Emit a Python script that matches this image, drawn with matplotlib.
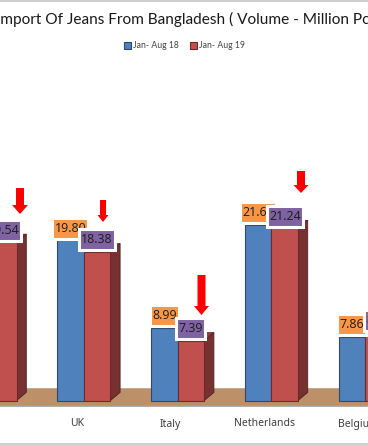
import numpy as np
import matplotlib
matplotlib.use('Agg')
import matplotlib.pyplot as plt
from matplotlib.patches import Polygon, Rectangle

plt.rcParams['font.family'] = ['Lato', 'DejaVu Sans']

# first category sits off the left edge of the picture, its name is not visible
categories = ['', 'UK', 'Italy', 'Netherlands', 'Belgium']
jan_aug_18 = [20.5, 19.80, 8.99, 21.67, 7.86]
jan_aug_19 = [19.54, 18.38, 7.39, 21.24, 8.45]
labels_18 = ['20.50', '19.80', '8.99', '21.67', '7.86']
labels_19 = ['19.54', '18.38', '7.39', '21.24', '8.45']

W, H = 368, 445
X0, DX = -10.0, 93.8   # pixel x of category 0, pixels per category
Y0, DY = 400.5, 8.1    # pixel y of value 0, pixels per unit


def px(x):
    return (x - X0) / DX


def py(y):
    return (Y0 - y) / DY


fig = plt.figure(figsize=(W / 100, H / 100), dpi=100)
ax = fig.add_axes([0, 0, 1, 1])
ax.set_xlim(px(0), px(W))
ax.set_ylim(py(H), py(0))
ax.axis('off')

# grey frame bands at top and bottom
ax.axhspan(py(2), py(0), color='#cfcfcf', lw=0, zorder=1)
ax.axhspan(py(H), py(443), color='#cfcfcf', lw=0, zorder=1)

# floor
ax.axhspan(py(406), py(388), facecolor='#bc9068', edgecolor='none', zorder=1)
ax.axhline(py(406), color='#a0a0a0', lw=1.2, zorder=1)
ax.axhline(py(388), color='#c8b09a', lw=0.6, zorder=1)

x = np.arange(len(categories))
bw = 26.6 / DX
depth_x = 9.7 / DX
depth_y = 1.0

bars18 = ax.bar(x - bw / 2, jan_aug_18, bw, color='#4f81bd', edgecolor='#2c4a6e', lw=0.8,
                zorder=4, label='Jan- Aug 18')
bars19 = ax.bar(x + bw / 2, jan_aug_19, bw, color='#c0504d', edgecolor='#6e2a28', lw=0.8,
                zorder=4, label='Jan- Aug 19')

# side and top faces of the 3d bars
for i in x:
    v18, v19 = jan_aug_18[i], jan_aug_19[i]
    r = i + bw
    ax.add_patch(Polygon([(r, 0), (r + depth_x, depth_y), (r + depth_x, v19 + depth_y), (r, v19)],
                         facecolor='#773131', edgecolor='#4e2020', lw=0.6, zorder=3))
    ax.add_patch(Polygon([(i, v19), (i + depth_x, v19 + depth_y), (r + depth_x, v19 + depth_y), (r, v19)],
                         facecolor='#8f3d3b', edgecolor='#4e2020', lw=0.5, zorder=3))
    ax.add_patch(Polygon([(i - bw, v18), (i - bw + depth_x, v18 + depth_y), (i + depth_x, v18 + depth_y), (i, v18)],
                         facecolor='#2f5480', edgecolor='#22405f', lw=0.5, zorder=2))


def value_box(cx, value, text, color, z):
    # box stands just above the bar top, width follows the number of digits
    w = (36 if len(text) > 4 else 29) / DX
    h = 21 / DY
    bottom = value + 1.5 / DY
    ax.add_patch(Rectangle((cx - w / 2, bottom), w, h, facecolor=color, edgecolor='white', lw=2.2, zorder=z))
    ax.text(cx, bottom + h / 2, text, ha='center', va='center', fontsize=8.9, color='#1c1c1c',
            family='Open Sans', zorder=z)


for i in x:
    value_box(i - bw / 2, jan_aug_18[i], labels_18[i], '#f79646', 6)
    value_box(i + bw / 2, jan_aug_19[i], labels_19[i], '#7f62a1', 7)

# red arrows: pixel x, top y, bottom y, shaft width, head width, head length
arrows = [(20, 188, 214, 8, 16, 9), (103, 200, 222, 6, 11, 7),
          (201.5, 275, 315, 8, 15, 9), (301, 171, 193, 8, 15, 8)]
for ax_x, top, bottom, sw, hw, hl in arrows:
    ax.arrow(px(ax_x), py(top), 0, py(bottom) - py(top), width=sw / DX, head_width=hw / DX,
             head_length=hl / DY, length_includes_head=True, color='#ff0000', lw=0, zorder=8)

# category names
for i, name in zip(x, categories):
    ax.text(i - 0.075, py(424), name, ha='center', va='center', fontsize=7.5,
            color='#404040', family='Noto Sans')

ax.text(px(-4), py(19.5), 'Import Of Jeans From Bangladesh ( Volume - Million Pcs)', ha='left', va='center',
        fontsize=11.1, color='#1a1a1a')

ax.legend(handles=[bars18, bars19], loc='center', bbox_to_anchor=(184.5 / W, 1 - 46 / H), ncol=2,
          frameon=False, fontsize=6.2, handlelength=0.8, handleheight=0.8, handletextpad=0.25,
          columnspacing=1.3, labelcolor='#444444')

fig.savefig('out.png', dpi=100)
